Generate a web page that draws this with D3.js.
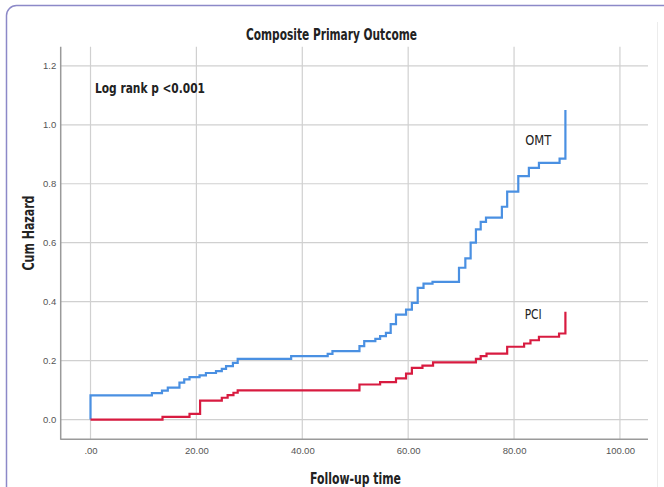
<!DOCTYPE html>
<html>
<head>
<meta charset="utf-8">
<script src="https://cdn.jsdelivr.net/npm/d3@7"></script>
<style>
  html, body { margin: 0; padding: 0; background: #fff; }
  svg { display: block; }
</style>
</head>
<body>
<div id="chart"></div>
<script>
// ---- data ----
const chartTitle = "Composite Primary Outcome";
const xTicks = [0, 20, 40, 60, 80, 100];
const xTickLabels = [".00", "20.00", "40.00", "60.00", "80.00", "100.00"];
const yTicks = [0, 0.2, 0.4, 0.6, 0.8, 1.0, 1.2];
const yTickLabels = ["0.0", "0.2", "0.4", "0.6", "0.8", "1.0", "1.2"];

const omtTimes  = [0, 0, 11.6, 13.5, 14.6, 16.8, 17.7, 18.7, 20.6, 21.8, 23.7, 24.8, 25.6, 26.9, 27.8, 37.9, 44.8, 45.7, 50.8, 51.7, 53.8, 54.7, 55.8, 56.7, 57.7, 59.6, 60.7, 61.8, 62.9, 64.6, 69.6, 70.8, 71.8, 72.8, 73.7, 74.7, 77.7, 78.7, 80.8, 82.8, 84.7, 88.6, 89.7];
const omtHazard = [0, 0.082, 0.090, 0.098, 0.108, 0.125, 0.136, 0.144, 0.150, 0.158, 0.164, 0.172, 0.181, 0.192, 0.206, 0.215, 0.223, 0.232, 0.249, 0.266, 0.274, 0.283, 0.294, 0.324, 0.356, 0.373, 0.396, 0.447, 0.461, 0.467, 0.515, 0.547, 0.600, 0.645, 0.671, 0.685, 0.722, 0.773, 0.826, 0.854, 0.871, 0.885, 1.050];

const pciTimes  = [0, 13.6, 18.7, 20.7, 24.8, 25.9, 27.0, 27.8, 50.8, 54.7, 57.7, 59.6, 60.7, 62.7, 64.7, 72.8, 73.7, 74.8, 78.7, 81.9, 83.1, 84.7, 88.5, 89.7];
const pciHazard = [0, 0.009, 0.019, 0.064, 0.074, 0.083, 0.091, 0.099, 0.119, 0.127, 0.140, 0.156, 0.175, 0.183, 0.194, 0.206, 0.215, 0.224, 0.247, 0.258, 0.269, 0.281, 0.292, 0.366];

const seriesNames = ["OMT", "PCI"];
const seriesLabelPos = [[82.1, 0.93], [82.0, 0.34]]; // [time, hazard] where labels sit
const annotation = "Log rank p <0.001";

// ---- layout ----
const W = 664, H = 487;
const plot = { left: 60.7, right: 648, top: 46.7, bottom: 439.3 };
const colors = ["#4a90e2", "#d81b40"];
const condensed = "'Liberation Sans Narrow', 'DejaVu Sans Condensed', 'Liberation Sans', sans-serif";

const svg = d3.select("#chart").append("svg")
  .attr("width", W).attr("height", H);

// card border
svg.append("rect")
  .attr("x", 6.5).attr("y", 5.5).attr("width", W + 20).attr("height", H + 20)
  .attr("rx", 10).attr("ry", 10)
  .attr("fill", "#fff").attr("stroke", "#8c89c8").attr("stroke-width", 1.5);
svg.append("line")
  .attr("x1", 657.5).attr("x2", 657.5).attr("y1", 22).attr("y2", H)
  .attr("stroke", "#ececec").attr("stroke-width", 1);

const x = d3.scaleLinear().domain([-5.63, 105.3]).range([plot.left, plot.right]);
const y = d3.scaleLinear().domain([-0.067, 1.265]).range([plot.bottom, plot.top]);

// gridlines
const grid = svg.append("g");
grid.selectAll("line.vx").data(xTicks).join("line")
  .attr("x1", d => x(d)).attr("x2", d => x(d))
  .attr("y1", plot.top).attr("y2", plot.bottom)
  .attr("stroke", "#d0d0d0").attr("stroke-width", 1.2);
grid.selectAll("line.hy").data(yTicks).join("line")
  .attr("x1", plot.left).attr("x2", plot.right)
  .attr("y1", d => y(d)).attr("y2", d => y(d))
  .attr("stroke", "#d0d0d0").attr("stroke-width", 1.2);

// axes
const xAxis = d3.axisBottom(x).tickValues(xTicks).tickSize(0)
  .tickFormat((d, i) => xTickLabels[i]);
const yAxis = d3.axisLeft(y).tickValues(yTicks).tickSize(0)
  .tickFormat((d, i) => yTickLabels[i]);

const gx = svg.append("g").attr("transform", `translate(0,${plot.bottom})`).call(xAxis);
gx.select(".domain").remove();
gx.selectAll("text").attr("dy", null).attr("y", 15)
  .attr("font-family", "'Liberation Sans', Arial, sans-serif").attr("font-size", 9.5).attr("fill", "#555");

const gy = svg.append("g").attr("transform", `translate(${plot.left},0)`).call(yAxis);
gy.select(".domain").remove();
gy.selectAll("text").attr("x", -4.5).attr("dy", "0.33em")
  .attr("font-family", "'Liberation Sans', Arial, sans-serif").attr("font-size", 9.5).attr("fill", "#555");

svg.append("line").attr("x1", plot.left).attr("x2", plot.left)
  .attr("y1", plot.top).attr("y2", plot.bottom + 0.5)
  .attr("stroke", "#9a9a9a").attr("stroke-width", 1.5);
svg.append("line").attr("x1", plot.left).attr("x2", plot.right)
  .attr("y1", plot.bottom).attr("y2", plot.bottom)
  .attr("stroke", "#9a9a9a").attr("stroke-width", 1.5);

// step curves
const stepLine = d3.line().x(d => x(d[0])).y(d => y(d[1])).curve(d3.curveStepAfter);
const series = [
  d3.zip(omtTimes, omtHazard),
  d3.zip(pciTimes, pciHazard)
];
svg.selectAll("path.km").data(series).join("path")
  .attr("class", "km")
  .attr("d", stepLine)
  .attr("fill", "none")
  .attr("stroke", (d, i) => colors[i])
  .attr("stroke-width", 2.2)
  .attr("stroke-linejoin", "miter");

// series labels
const labelLens = [26, 17];
svg.selectAll("text.slab").data(seriesNames).join("text")
  .attr("class", "slab")
  .attr("x", (d, i) => x(seriesLabelPos[i][0]))
  .attr("y", (d, i) => y(seriesLabelPos[i][1]))
  .attr("font-family", condensed).attr("font-size", 14).attr("fill", "#222")
  .attr("textLength", (d, i) => labelLens[i]).attr("lengthAdjust", "spacingAndGlyphs")
  .text(d => d);

// annotation
svg.append("text").attr("x", 95).attr("y", 93)
  .attr("font-family", condensed).attr("font-size", 14).attr("font-weight", "bold")
  .attr("textLength", 110).attr("lengthAdjust", "spacingAndGlyphs")
  .attr("fill", "#222").text(annotation);

// title
svg.append("text").attr("x", 331.5).attr("y", 40).attr("text-anchor", "middle")
  .attr("font-family", condensed).attr("font-size", 15).attr("font-weight", "bold")
  .attr("textLength", 171).attr("lengthAdjust", "spacingAndGlyphs")
  .attr("fill", "#222").text(chartTitle);

// axis titles
svg.append("text").attr("x", 355.5).attr("y", 483.5)
  .attr("text-anchor", "middle")
  .attr("font-family", condensed).attr("font-size", 15).attr("font-weight", "bold")
  .attr("textLength", 91).attr("lengthAdjust", "spacingAndGlyphs")
  .attr("fill", "#222").text("Follow-up time");
svg.append("text")
  .attr("transform", `translate(33.5,233) rotate(-90)`)
  .attr("text-anchor", "middle")
  .attr("font-family", condensed).attr("font-size", 15).attr("font-weight", "bold")
  .attr("textLength", 75).attr("lengthAdjust", "spacingAndGlyphs")
  .attr("fill", "#222").text("Cum Hazard");
</script>
</body>
</html>
